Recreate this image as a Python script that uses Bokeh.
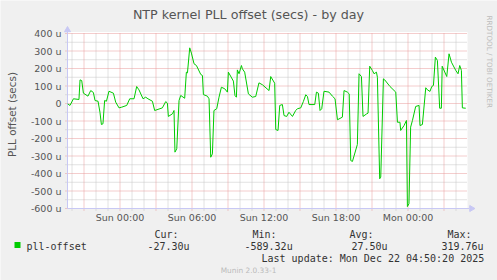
import math
from bokeh.plotting import figure
from bokeh.models import Range1d
from bokeh.core.properties import value
from bokeh.embed import file_html
from bokeh.resources import INLINE

# ---- data (hours relative to Sun 00:00, offset in microseconds) ----
hours = [-4.36, -4.17, -3.88, -3.42, -3.33, -3.19, -3.05, -2.67, -2.44, -2.22,
         -2.08, -1.83, -1.67, -1.55, -1.42, -1.28, -1.13, -0.92, -0.55, -0.36,
         -0.08, 0.14, 0.56, 0.81, 1.17, 1.39, 1.58, 1.92, 2.14, 2.33,
         2.70, 2.89, 3.53, 3.81, 3.95, 4.03, 4.37, 4.50, 4.58, 4.73,
         4.92, 5.06, 5.39, 5.53, 5.62, 5.81, 5.95, 6.17, 6.37, 6.73,
         6.87, 6.95, 7.28, 7.42, 7.56, 7.70, 7.83, 8.06, 8.25, 8.45,
         8.73, 8.95, 9.03, 9.45, 9.58, 9.70, 9.78, 9.92, 10.12, 10.20,
         10.39, 10.70, 11.03, 11.31, 11.58, 11.87, 12.42, 12.56, 12.89, 12.98,
         13.17, 13.31, 13.53, 13.67, 13.89, 14.08, 14.37, 14.64, 14.78, 15.06,
         15.28, 15.48, 15.62, 15.75, 16.23, 16.37, 16.53, 16.67, 16.81, 17.00,
         17.42, 17.70, 17.92, 18.12, 18.53, 18.67, 18.95, 19.10, 19.23, 19.37,
         19.78, 19.92, 20.12, 20.25, 20.56, 20.67, 20.81, 21.03, 21.17, 21.37,
         21.45, 21.64, 21.73, 21.95, 22.06, 22.50, 22.98, 23.12, 23.33, 23.39,
         23.67, 23.87, 23.95, 24.08, 24.22, 24.37, 24.64, 24.92, 25.00, 25.20,
         25.48, 25.62, 25.83, 25.98, 26.12, 26.28, 26.45, 26.64, 26.78, 26.85,
         27.23, 27.42, 27.62, 27.98, 28.17, 28.31, 28.45, 28.53, 28.81]
offset_u = [-2, -11, 27, 23, 135, 131, 59, 42, 74, 63,
            17, 13, -50, -120, -116, 17, 13, 70, 59, 8,
            -25, -21, -11, 27, 27, 97, 78, 27, 36, 27,
            13, -40, -25, 11, 2, -74, -59, -40, -278, -259,
            17, 46, 30, 179, 175, 318, 288, 227, 217, 166,
            160, 51, 42, 27, -307, -288, -40, -30, 36, 93,
            84, 65, 179, 128, 46, 36, 192, 170, 217, 198,
            179, 55, 36, 40, 118, 107, 74, 154, 116, -149,
            -154, -11, -6, -69, -74, -50, -74, -40, -30, -25,
            11, 50, 40, -6, -6, 65, 59, -40, -30, 70,
            65, 42, 27, -93, -78, 74, 65, 55, -326, -331,
            -234, 170, 154, -74, -59, -55, 213, 189, 170, 179,
            150, -430, -421, 141, 135, 97, 65, -107, -107, -154,
            -126, -97, -589, -573, -135, -97, -17, -11, -126, -120,
            90, 78, 69, 97, 103, 265, 246, -27, -27, 213,
            154, 284, 236, 189, 170, 217, 189, -25, -27]

x_tick_hours = [0, 6, 12, 18, 24]
x_tick_labels = ["Sun 00:00", "Sun 06:00", "Sun 12:00", "Sun 18:00", "Mon 00:00"]
x_major_grid = [-3, 0, 3, 6, 9, 12, 15, 18, 21, 24, 27]
x_minor_grid = [-4, -2, -1, 1, 2, 4, 5, 7, 8, 10, 11, 13, 14, 16, 17,
                19, 20, 22, 23, 25, 26, 28]
y_ticks = [-600, -500, -400, -300, -200, -100, 0, 100, 200, 300, 400]
y_tick_labels = ["-600 u", "-500 u", "-400 u", "-300 u", "-200 u", "-100 u", "0",
                 "100 u", "200 u", "300 u", "400 u"]
y_minor_grid = [-550, -450, -350, -250, -150, -50, 50, 150, 250, 350]

title_text = "NTP kernel PLL offset (secs) - by day"
y_label = "PLL offset (secs)"
series_name = "pll-offset"
stat_names = ["Cur:", "Min:", "Avg:", "Max:"]
stat_values = [-27.30, -589.32, 27.50, 319.76]
last_update = "Mon Dec 22 04:50:20 2025"

# ---- geometry (canvas pixels) ----
W, H = 497, 280
L, R, T, B = 67, 30, 33, 72          # plot area 400 x 175
X0 = -4.375                          # hours shown (33 h 20 min window)
X1 = X0 + 400 / 12
Y0, Y1 = -600, 400                   # micro-seconds shown
kx = (X1 - X0) / (W - L - R)         # hours per pixel
ky = (Y1 - Y0) / (H - T - B)         # units per pixel

BG = "#f0f0f0"
AXIS_C = "#c8c8f4"
MGRID_C = "#e89a9a"
GRID_C = "#c4c4c4"
FONT = "DejaVu Sans"
MONO = "DejaVu Sans Mono"
TXT = "#555555"

p = figure(width=W, height=H, output_backend="svg", toolbar_location=None,
           x_range=Range1d(X0 - L * kx, X1 + R * kx),
           y_range=Range1d(Y0 - B * ky, Y1 + T * ky),
           min_border=0, background_fill_color=BG, border_fill_color=BG)
p.extra_x_ranges = {"px": Range1d(0, W)}
p.extra_y_ranges = {"px": Range1d(H, 0)}
p.axis.visible = False
p.grid.visible = False
p.outline_line_color = None

# plot area
p.quad(left=[X0], right=[X1], bottom=[Y0], top=[Y1 + 1.5 * ky], fill_color="white", line_color=None)

# grid lines (from tick arrays, through the scales)
p.segment(x0=x_minor_grid, x1=x_minor_grid, y0=[Y0 - 2 * ky] * len(x_minor_grid),
          y1=[Y1] * len(x_minor_grid), line_color=GRID_C, line_dash="1 1", line_width=1)
p.segment(x0=[X0 - 2 * kx] * len(y_minor_grid), x1=[X1] * len(y_minor_grid),
          y0=y_minor_grid, y1=y_minor_grid, line_color=GRID_C, line_dash="1 1", line_width=1)
p.segment(x0=x_major_grid, x1=x_major_grid, y0=[Y0 - 2 * ky] * len(x_major_grid),
          y1=[Y1] * len(x_major_grid), line_color=MGRID_C, line_dash="1 1", line_width=1)
p.segment(x0=[X0 - 2 * kx] * len(y_ticks), x1=[X1] * len(y_ticks),
          y0=y_ticks, y1=y_ticks, line_color=MGRID_C, line_dash="1 1", line_width=1)

# axes
p.segment(x0=[X0, X0], x1=[X0, X1 + 1.5 * kx], y0=[Y0, Y0], y1=[Y1 + 2 * ky, Y0],
          line_color=AXIS_C, line_width=1)
p.scatter(x=[L, W - R + 4], y=[H - B - 178.5, H - B], x_range_name="px", y_range_name="px",
          marker="triangle", size=6, angle=[0, -math.pi / 2],
          fill_color=AXIS_C, line_color=AXIS_C)

# tick labels
p.text(x=[X0] * len(y_ticks), y=y_ticks, text=y_tick_labels, x_offset=-6,
       text_align="right", text_baseline="middle", text_font=value(FONT),
       text_font_size="9.5px", text_color=TXT)
p.text(x=x_tick_hours, y=[Y0] * len(x_tick_hours), text=x_tick_labels, y_offset=9,
       text_align="center", text_baseline="middle", text_font=value(FONT),
       text_font_size="9.5px", text_color=TXT)

# data line
p.line(hours, offset_u, line_color="#00cc00", line_width=1)

# titles (pixel positions on the canvas)
px = dict(x_range_name="px", y_range_name="px")
p.text(x=[248], y=[14], text=[title_text], text_align="center", text_baseline="middle",
       text_font=value(FONT), text_font_size="12.7px", text_color=TXT, **px)
p.text(x=[11], y=[114], text=[y_label], angle=math.pi / 2, text_align="center",
       text_baseline="middle", text_font=value(FONT), text_font_size="10.4px",
       text_color=TXT, **px)
p.text(x=[489], y=[15], text=["RRDTOOL / TOBI OETIKER"], angle=-math.pi / 2,
       text_align="left", text_baseline="middle", text_font=value(FONT),
       text_font_size="7.2px", text_color="#bdbdbd", **px)

# legend + statistics
p.quad(left=[14], right=[20], top=[241.5], bottom=[247.5], fill_color="#00cc00",
       line_color=None, **px)
mono_kw = dict(text_font=value(MONO), text_font_size="10px", text_color="#333333",
               text_baseline="middle", text_align="left")
p.text(x=[154, 252, 349, 447], y=[233.5] * 4, text=stat_names, **mono_kw, **px)
p.text(x=[26, 147, 244, 351, 441], y=[246] * 5,
       text=[series_name] + ["%.2fu" % v for v in stat_values], **mono_kw, **px)
p.text(x=[261], y=[258], text=["Last update: " + last_update], **mono_kw, **px)
p.text(x=[248], y=[269.5], text=["Munin 2.0.33-1"], text_font=value(FONT),
       text_font_size="7.4px", text_color="#bbbbbb", text_baseline="middle",
       text_align="center", **px)

open("out.html", "w").write(file_html(p, INLINE))
